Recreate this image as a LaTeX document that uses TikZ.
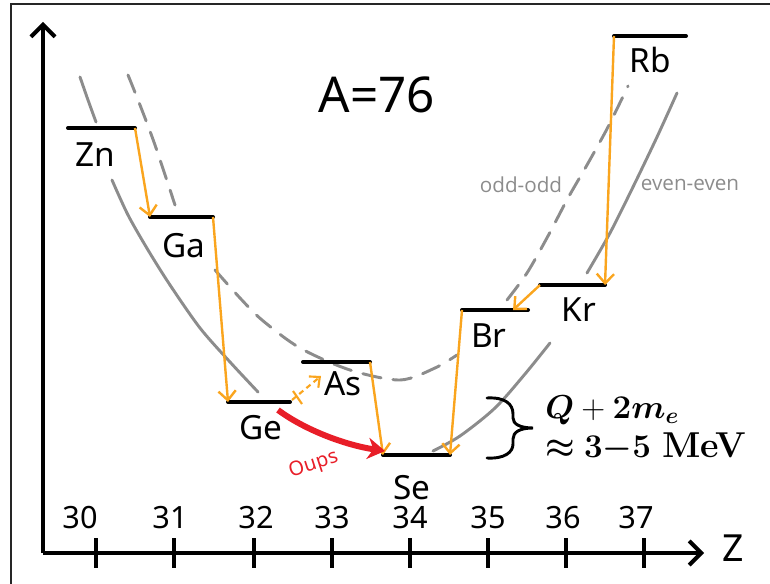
\documentclass[tikz,border=0pt]{standalone}
\usepackage{fontspec}
\usepackage{amsmath,amsbsy}
\usetikzlibrary{arrows.meta}
\newfontfamily\handfont{Noto Sans}
\newfontfamily\notefont{Open Sans}
\definecolor{beta}{RGB}{250,165,30}
\definecolor{curvegray}{RGB}{140,140,140}
\definecolor{oopsred}{RGB}{232,30,40}
\newcommand{\qone}{\ensuremath{\boldsymbol{Q}+\boldsymbol{2m_e}}}
\newcommand{\qtwo}{\ensuremath{\boldsymbol{\approx}\boldsymbol{3{-}5}}~\textbf{MeV}}
\tikzset{
  levelline/.style={line width=3pt, line cap=round},
  axisline/.style={line width=3pt, -{Straight Barb[length=9pt,width=18pt]}},
  tickline/.style={line width=2.4pt},
  decay/.style={beta, line width=1.8pt, -{Straight Barb[length=7pt,width=13pt]}},
  elem/.style={font=\handfont\fontsize{25}{28}\selectfont, inner sep=0pt},
  ticklabel/.style={font=\handfont\fontsize{23}{26}\selectfont, inner sep=0pt},
  parabola/.style={curvegray, line width=2.2pt, line cap=round},
  parabolad/.style={parabola, dash pattern=on 14pt off 9pt},
  note/.style={font=\notefont\fontsize{15.5}{18}\selectfont, text=curvegray, inner sep=0pt},
  qtext/.style={font=\fontsize{27}{30}\selectfont, anchor=west, inner sep=0pt}
}
\begin{document}
\begin{tikzpicture}[x=0.75pt,y=-0.75pt]
\useasboundingbox (0,0) rectangle (770,584);
% frame
\draw[line width=1.5pt, black!85] (11,584) -- (11,4) -- (770,4);

% parabolas
\draw[parabola] plot[smooth] coordinates {(80,77) (88,100) (96,122)};
\draw[parabola] plot[smooth] coordinates {(112,180) (128,215) (148,250) (170,285) (200,328) (230,362) (258,392)};
\draw[parabola] plot[smooth] coordinates {(433,451) (460,436) (495,408) (525,374) (550,343)};
\draw[parabola] plot[smooth] coordinates {(587,273) (610,233) (633,187) (657,137) (677,93)};
\draw[parabolad] plot[smooth] coordinates {(128,75) (140,105) (155,145) (175,205)};
\draw[parabolad] plot[smooth] coordinates {(215,270) (240,298) (262,320) (300,348) (350,370) (400,380) (435,368) (457,355)};
\draw[parabolad] plot[smooth] coordinates {(507,300) (527,273) (548,236) (568,198) (587,165) (608,127) (628,86)};

% axes
\coordinate (O) at (43,553);
\coordinate (Ytop) at (43,22);
\coordinate (Xend) at (704,553);
\draw[axisline] (O) -- (Ytop);
\draw[axisline] (O) -- (Xend);
\node[font=\handfont\fontsize{28}{30}\selectfont, inner sep=0pt] (Zlab) at (733,548) {Z};

\foreach \x/\lab/\dx in {96/30/-16, 174/31/-4, 254/32/2, 332/33/0, 410/34/0, 488/35/0, 566/36/-3, 644/37/-8} {
  \draw[tickline] (\x,538) -- (\x,568);
  \node[ticklabel] (t\lab) at (\x+\dx,518) {\lab};
}

% title
\node[font=\handfont\fontsize{37}{40}\selectfont, inner sep=0pt] (title) at (377,95) {A=76};

% level end points
\coordinate (ZnL) at (68,128);  \coordinate (ZnR) at (135,128);
\coordinate (GaL) at (150,217); \coordinate (GaR) at (213,217);
\coordinate (GeL) at (228,402); \coordinate (GeR) at (290,402);
\coordinate (AsL) at (303,362); \coordinate (AsR) at (370,362);
\coordinate (SeL) at (383,455); \coordinate (SeR) at (450,455);
\coordinate (BrL) at (462,310); \coordinate (BrR) at (528,310);
\coordinate (KrL) at (540,285); \coordinate (KrR) at (605,285);
\coordinate (RbL) at (614,36);  \coordinate (RbR) at (686,36);
\coordinate (BrT) at (513,310);

\foreach \e in {Zn,Ga,Ge,As,Se,Br,Kr,Rb} { \draw[levelline] (\e L) -- (\e R); }

% element labels
\node[elem] (Zn) at (95,155) {Zn};
\node[elem] (Ga) at (184,246) {Ga};
\node[elem] (Ge) at (261,428) {Ge};
\node[elem] (As) at (343,384) {As};
\node[elem] (Se) at (412,488) {Se};
\node[elem] (Br) at (489,336) {Br};
\node[elem] (Kr) at (579,310) {Kr};
\node[elem] (Rb) at (650,60) {Rb};

% beta decays
\draw[decay] (ZnR) -- (GaL);
\draw[decay] (GaR) -- (GeL);
\draw[decay] (AsR) -- (SeL);
\draw[decay] (BrL) -- (SeR);
\draw[decay] (KrL) -- (BrT);
\draw[decay] (RbL) -- (KrR);

% forbidden Ge -> As
\coordinate (GeX) at (292,400);
\coordinate (AsX) at (321,376);
\draw[beta, line width=1.6pt, dash pattern=on 4pt off 3pt, -{Straight Barb[length=6pt,width=11pt]}] (GeX) -- (AsX);
\draw[beta, line width=1.6pt] (293,391) -- (302,404);

% double beta
\coordinate (GeS) at (278,410);
\coordinate (SeA) at (385,451);
\draw[oopsred, line width=4.5pt, -{Stealth[length=13pt,width=16pt]}] (GeS) .. controls (305,430) and (345,445) .. (SeA);
\node[font=\handfont\fontsize{15}{18}\selectfont, text=oopsred, rotate=18, inner sep=0pt] (oops) at (314,465) {Oups};

% parabola notes
\node[note] (oddodd) at (521,185) {odd-odd};
\node[note] (eveneven) at (690,185) {even-even};

% brace and Q value
\draw[line width=2.2pt, line cap=round] (487,398) .. controls (505,397) and (513,404) .. (513,414) -- (513,418) .. controls (513,424) and (520,428) .. (533,428) .. controls (520,428) and (513,432) .. (513,439) -- (513,444) .. controls (513,452) and (505,459) .. (487,458);
\node[qtext] (qval) at (545,410) {\qone};
\node[qtext] (qrange) at (545,447) {\qtwo};
\end{tikzpicture}
\end{document}
